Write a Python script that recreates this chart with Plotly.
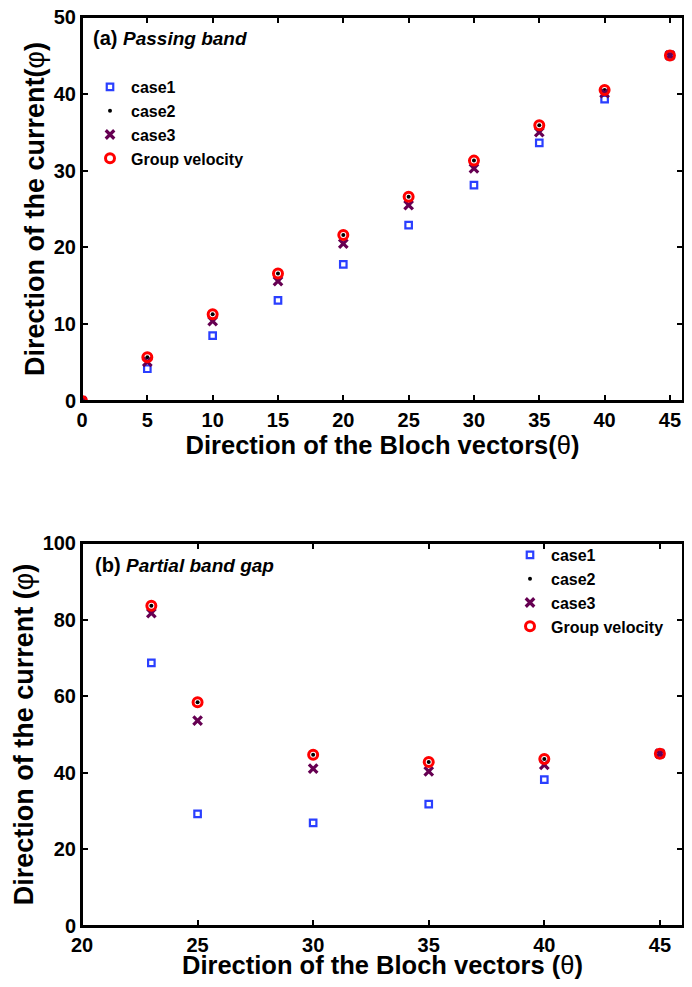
import plotly.graph_objects as go

# panel (a): passing band
theta_a = [0, 5, 10, 15, 20, 25, 30, 35, 40, 45]
case1_a = [0, 4.2, 8.5, 13.1, 17.8, 22.9, 28.1, 33.6, 39.3, 45]
case2_a = [0, 5.7, 11.3, 16.6, 21.6, 26.6, 31.3, 35.9, 40.5, 45]
case3_a = [0, 5.1, 10.4, 15.6, 20.5, 25.5, 30.3, 35.0, 40.1, 45]
group_a = [0, 5.7, 11.3, 16.6, 21.6, 26.6, 31.3, 35.9, 40.5, 45]

# panel (b): partial band gap
theta_b = [23, 25, 30, 35, 40, 45]
case1_b = [68.7, 29.3, 26.9, 31.8, 38.2, 45]
case2_b = [83.6, 58.4, 44.7, 42.8, 43.6, 45]
case3_b = [81.7, 53.6, 41.1, 40.4, 42.1, 45]
group_b = [83.6, 58.4, 44.7, 42.8, 43.6, 45]

names = ["case1", "case2", "case3", "Group velocity"]

BLUE = "#2a3fff"
PURPLE = "#660052"
RED = "#ff0000"
FONT = "Liberation Sans"

# the page body has an 8px margin, so the figure is drawn 8px in from the corner
OFF = 8
W, H = 692 - 2 * OFF, 987 - 2 * OFF


def px(x):
    return (x - OFF) / W


def py(y):
    return 1 - (y - OFF) / H


def add_series(fig, x, ys, xa, ya, legend):
    styles = [
        dict(symbol="square-open", size=6.5, color=BLUE, line=dict(width=2.2, color=BLUE)),
        dict(symbol="circle", size=4, color="black", line=dict(width=0)),
        dict(symbol="x-thin-open", size=8.5, color=PURPLE, line=dict(width=3.2, color=PURPLE)),
        dict(symbol="circle-open", size=9, color=RED, line=dict(width=3, color=RED)),
    ]
    for y, name, m in zip(ys, names, styles):
        fig.add_trace(go.Scatter(x=x, y=y, mode="markers", name=name, marker=m,
                                 xaxis=xa, yaxis=ya, legend=legend))


fig = go.Figure()
add_series(fig, theta_a, [case1_a, case2_a, case3_a, group_a], "x", "y", "legend")
add_series(fig, theta_b, [case1_b, case2_b, case3_b, group_b], "x2", "y2", "legend2")

xdom = [px(82), px(683)]
axis_style = dict(showline=True, linecolor="black", linewidth=2, mirror="ticks",
                  ticks="inside", ticklen=6, tickwidth=2, tickcolor="black",
                  showgrid=False, zeroline=False, automargin=False,
                  ticklabeloverflow="allow",
                  tickfont=dict(family=FONT, size=20, color="black", weight="bold"))

xtitle_font = dict(family=FONT, size=25.5, color="black", weight="bold")
ytitle_font = dict(family=FONT, size=27, color="black", weight="bold")
legend_font = dict(family=FONT, size=16, color="black", weight="bold")

# box frame round each panel so the top edge is always drawn
frames = [
    dict(type="rect", xref=f"{xa} domain", yref=f"{ya} domain", x0=0, x1=1, y0=0, y1=1,
         line=dict(color="black", width=2), fillcolor="rgba(0,0,0,0)", layer="above")
    for xa, ya in [("x", "y"), ("x2", "y2")]
]

fig.update_layout(
    width=W, height=H,
    margin=dict(l=0, r=0, t=0, b=0, autoexpand=False),
    paper_bgcolor="white", plot_bgcolor="white",
    showlegend=True,
    shapes=frames,
    xaxis=dict(domain=xdom, anchor="y", range=[0, 46], tickvals=theta_a,
               title=dict(text="Direction of the Bloch vectors(<span style='font-weight:normal'>θ</span>)",
                          font=xtitle_font, standoff=0), **axis_style),
    yaxis=dict(domain=[py(401), py(17)], anchor="x", range=[0, 50], dtick=10,
               title=dict(text="Direction of the current(<span style='font-weight:normal'>φ</span>)",
                          font=ytitle_font, standoff=1), **axis_style),
    xaxis2=dict(domain=xdom, anchor="y2", range=[20, 46], dtick=5,
                title=dict(text="Direction of the Bloch vectors (<span style='font-weight:normal'>θ</span>)",
                           font=xtitle_font, standoff=0), **axis_style),
    yaxis2=dict(domain=[py(926), py(543)], anchor="x2", range=[0, 100], dtick=20,
                title=dict(text="Direction of the current (<span style='font-weight:normal'>φ</span>)",
                           font=ytitle_font, standoff=1), **axis_style),
    legend=dict(x=px(89), y=py(70), xanchor="left", yanchor="top",
                bgcolor="rgba(0,0,0,0)", tracegroupgap=0, itemwidth=32, font=legend_font),
    legend2=dict(x=px(509), y=py(538), xanchor="left", yanchor="top",
                 bgcolor="rgba(0,0,0,0)", tracegroupgap=0, itemwidth=32, font=legend_font),
    annotations=[
        dict(text="<b>(a)</b> <b><i><span style='font-size:19px'>Passing band</span></i></b>",
             x=px(91), y=py(38), xref="paper", yref="paper",
             xanchor="left", yanchor="middle", showarrow=False,
             font=dict(family=FONT, size=20, color="black")),
        dict(text="<b>(b)</b> <b><i><span style='font-size:19px'>Partial band gap</span></i></b>",
             x=px(93), y=py(565), xref="paper", yref="paper",
             xanchor="left", yanchor="middle", showarrow=False,
             font=dict(family=FONT, size=20, color="black")),
    ],
)

fig.write_html("out.html")
